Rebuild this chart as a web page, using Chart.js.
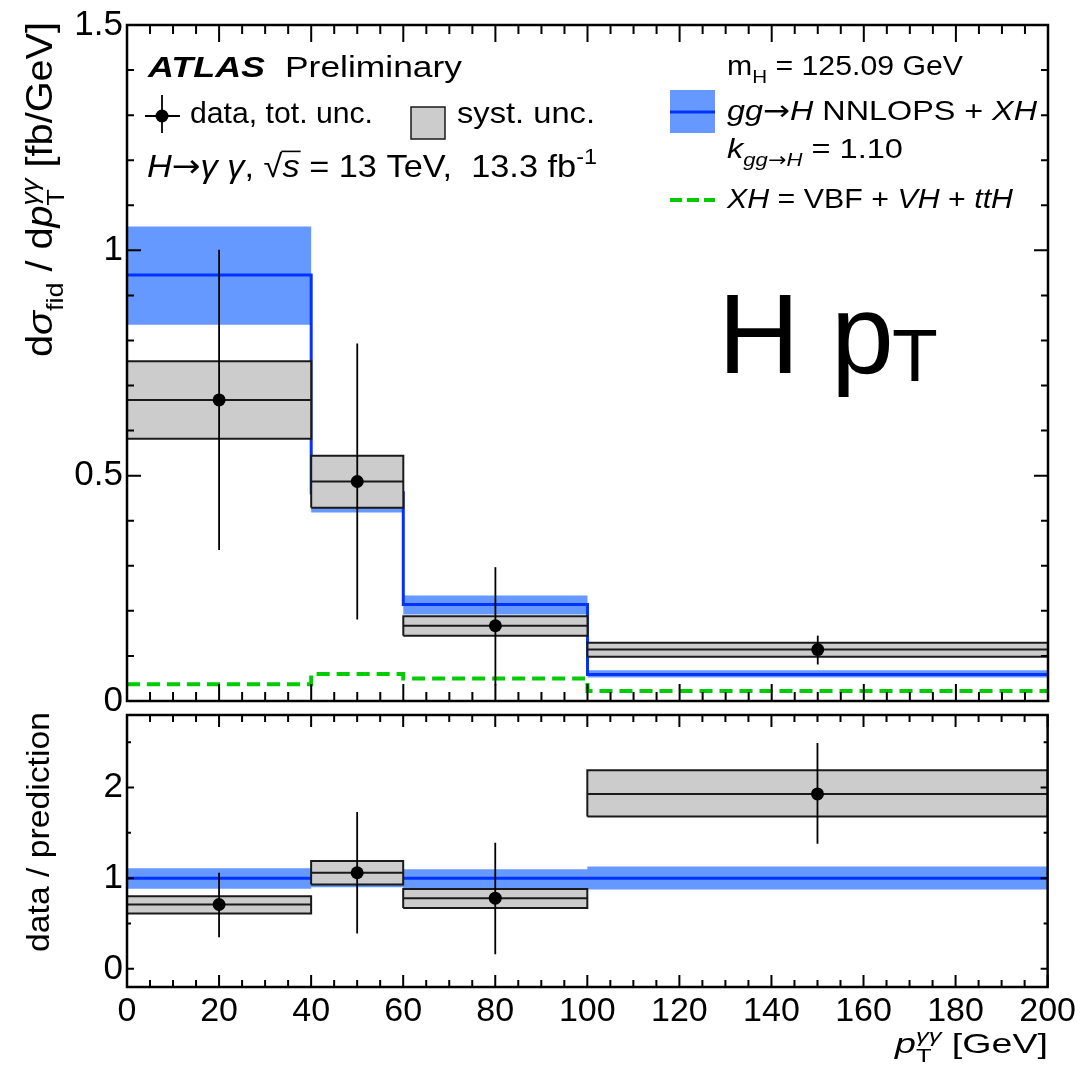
<!DOCTYPE html>
<html>
<head>
<meta charset="utf-8">
<script src="https://cdn.jsdelivr.net/npm/chart.js@4.4.1/dist/chart.umd.min.js"></script>
<style>
body{margin:0;background:#fff;}
#wrap{position:relative;width:1080px;height:1072px;overflow:hidden;}
canvas{position:absolute;left:0;}
</style>
</head>
<body>
<div id="wrap">
<canvas id="top" width="1080" height="730" style="top:0px"></canvas>
<canvas id="bot" width="1080" height="382" style="top:690px"></canvas>
</div>
<script>
// bins in pT [GeV]
const binEdges=[0,40,60,100,200]
const binCenters=[20,50,80,150]

// main panel: d sigma / d pT [fb/GeV]
const pred=[0.945,0.462,0.214,0.059]
const predUp=[1.053,0.506,0.234,0.068]
const predDn=[0.835,0.418,0.192,0.052]
const xh=[0.037,0.060,0.050,0.022]
const data=[0.668,0.487,0.167,0.114]
const totUp=[1.0015,0.793,0.297,0.145]
const totDn=[0.335,0.181,0.035,0.081]
const systUp=[0.754,0.544,0.188,0.129]
const systDn=[0.582,0.429,0.145,0.098]

// ratio panel: data / prediction
const ratioPred=[1,1,1,1]
const ratioBandUp=[1.11,1.095,1.10,1.13]
const ratioBandDn=[0.885,0.90,0.89,0.876]
const ratio=[0.71,1.06,0.78,1.93]
const ratioTotUp=[1.06,1.73,1.39,2.49]
const ratioTotDn=[0.35,0.39,0.16,1.38]
const ratioSystUp=[0.80,1.19,0.88,2.19]
const ratioSystDn=[0.61,0.93,0.67,1.68]

const xTicks=[0,20,40,60,80,100,120,140,160,180,200]
const yTicksTop=[0,0.5,1,1.5]
const yTicksRatio=[0,1,2]

const FONT='"Liberation Sans", Arial, Helvetica, sans-serif'
const ARROWFONT='"DejaVu Sans", sans-serif'
const BLUE='#0033ff', BAND='#6699ff', GRAY='#cccccc', GREEN='#00cc00'

function stepPts(vals){
  return binEdges.map((x,i)=>({x:x,y:vals[Math.min(i,vals.length-1)]}))
}
function boxPts(i,lo,hi){
  const a=binEdges[i],b=binEdges[i+1]
  return [{x:a,y:lo},{x:a,y:hi},{x:b,y:hi},{x:b,y:lo},{x:a,y:lo}]
}

function makeSets(o){
  const L=[]
  L.push({data:stepPts(o.bandUp),fill:'+1',backgroundColor:BAND,borderWidth:0,showLine:true,stepped:true})
  L.push({data:stepPts(o.bandDn),fill:false,borderWidth:0,showLine:true,stepped:true})
  L.push({data:stepPts(o.line),borderColor:BLUE,borderWidth:3,showLine:true,stepped:true,fill:false})
  if(o.xh) L.push({data:stepPts(o.xh),borderColor:GREEN,borderWidth:4,borderDash:[13,7],showLine:true,stepped:true,fill:false})
  o.val.forEach((v,i)=>{
    L.push({data:boxPts(i,o.systDn[i],o.systUp[i]),fill:'shape',backgroundColor:GRAY,borderColor:'#1a1a1a',borderWidth:2,showLine:true})
    L.push({data:[{x:binEdges[i],y:v},{x:binEdges[i+1],y:v}],borderColor:'#1a1a1a',borderWidth:2,showLine:true,fill:false})
  })
  o.val.forEach((v,i)=>{
    L.push({data:[{x:binCenters[i],y:o.totDn[i]},{x:binCenters[i],y:o.totUp[i]}],borderColor:'#000',borderWidth:1.8,showLine:true,fill:false})
  })
  L.push({data:binCenters.map((x,i)=>({x:x,y:o.val[i]})),showLine:false,pointRadius:6.5,pointBackgroundColor:'#000',pointBorderWidth:0})
  L.forEach((d,i)=>{d.order=L.length-i})
  return L
}

// rich text with sub/superscripts, optionally stretched to a target width
function fontOf(p,size){
  const s=(p.sub||p.sup||p.small)?size*0.68:size
  return (p.it?'italic ':'')+(p.bd?'bold ':'')+s.toFixed(1)+'px '+(p.ar?ARROWFONT:FONT)
}
function partWidth(ctx,p,size){
  if(p.st){
    return Math.max(...p.st.map(q=>{ctx.font=fontOf(Object.assign({small:1},q),size);return ctx.measureText(q.t).width}))
  }
  ctx.font=fontOf(p,size)
  return ctx.measureText(p.t).width
}
function drawRich(ctx,parts,x,y,size,opt){
  opt=opt||{}
  ctx.save()
  ctx.translate(x,y)
  if(opt.rot) ctx.rotate(-Math.PI/2)
  const total=parts.reduce((a,p)=>a+partWidth(ctx,p,size),0)
  const sx=opt.w?opt.w/total:1
  if(opt.right) ctx.translate(-total*sx,0)
  ctx.scale(sx,1)
  ctx.fillStyle='#000';ctx.strokeStyle='#000';ctx.textAlign='left';ctx.textBaseline='alphabetic'
  let cx=0
  for(const p of parts){
    const w=partWidth(ctx,p,size)
    if(p.st){
      ctx.font=fontOf(Object.assign({small:1},p.st[0]),size);ctx.fillText(p.st[0].t,cx,-size*0.40)
      ctx.font=fontOf(Object.assign({small:1},p.st[1]),size);ctx.fillText(p.st[1].t,cx,size*0.32)
    }else{
      ctx.font=fontOf(p,size)
      const dy=p.sub?size*0.3:(p.sup?-size*0.42:0)
      ctx.fillText(p.t,cx,dy)
      if(p.over){
        ctx.lineWidth=1.6;ctx.beginPath();ctx.moveTo(cx-1,-size*0.8);ctx.lineTo(cx+w+1,-size*0.8);ctx.stroke()
      }
    }
    cx+=w
  }
  ctx.restore()
}

function framePlugin(o){
  return {id:'frame',afterDatasetsDraw(chart){
    const ctx=chart.ctx,a=chart.chartArea,x=chart.scales.x,y=chart.scales.y
    ctx.save();ctx.strokeStyle='#000';ctx.lineWidth=2
    ctx.beginPath()
    for(let v=0;v<=200;v+=5){
      const px=x.getPixelForValue(v),L=(v%20===0)?o.xMaj:o.xMin
      ctx.moveTo(px,a.bottom);ctx.lineTo(px,a.bottom-L)
      ctx.moveTo(px,a.top);ctx.lineTo(px,a.top+L)
    }
    for(let k=0;;k++){
      const v=o.y0+k*o.yStep
      if(v>o.y1+1e-9) break
      const py=y.getPixelForValue(v)
      const r=v/o.yMajStep,maj=Math.abs(r-Math.round(r))<1e-6
      const L=maj?o.yMaj:o.yMin
      ctx.moveTo(a.left,py);ctx.lineTo(a.left+L,py)
      ctx.moveTo(a.right,py);ctx.lineTo(a.right-L,py)
    }
    ctx.stroke()
    ctx.lineWidth=2.5
    ctx.strokeRect(a.left,a.top,a.right-a.left,a.bottom-a.top)
    ctx.restore()
  }}
}

const topText={id:'topText',afterDraw(chart){
  const ctx=chart.ctx
  // left block
  drawRich(ctx,[{t:'ATLAS',it:1,bd:1}],148,77,30,{w:117})
  drawRich(ctx,[{t:'Preliminary'}],285,77,30,{w:177})
  ctx.save()
  ctx.strokeStyle='#000';ctx.lineWidth=1.8
  ctx.beginPath();ctx.moveTo(145,116);ctx.lineTo(180,116);ctx.moveTo(162,95);ctx.lineTo(162,133);ctx.stroke()
  ctx.fillStyle='#000';ctx.beginPath();ctx.arc(162,116,6.5,0,Math.PI*2);ctx.fill()
  ctx.fillStyle=GRAY;ctx.fillRect(411,107,34,32)
  ctx.strokeStyle='#1a1a1a';ctx.lineWidth=1.5;ctx.strokeRect(411,107,34,32)
  ctx.restore()
  drawRich(ctx,[{t:'data, tot. unc.'}],190,123,30,{w:183})
  drawRich(ctx,[{t:'syst. unc.'}],457,123,30,{w:138})
  drawRich(ctx,[{t:'H',it:1},{t:'→',ar:1},{t:'γ',it:1},{t:' '},{t:'γ',it:1},{t:', √'},{t:'s',it:1,over:1},{t:' = 13 TeV,  13.3 fb'},{t:'-1',sup:1}],147,177,32,{w:450})
  // right block
  ctx.save()
  ctx.fillStyle=BAND;ctx.fillRect(670,90,45,43)
  ctx.strokeStyle=BLUE;ctx.lineWidth=3;ctx.beginPath();ctx.moveTo(670,112);ctx.lineTo(715,112);ctx.stroke()
  ctx.strokeStyle=GREEN;ctx.lineWidth=4;ctx.setLineDash([12,5]);ctx.beginPath();ctx.moveTo(670,200);ctx.lineTo(715,200);ctx.stroke()
  ctx.restore()
  drawRich(ctx,[{t:'m'},{t:'H',sub:1},{t:' = 125.09 GeV'}],727,75,27,{w:236})
  drawRich(ctx,[{t:'gg',it:1},{t:'→',ar:1},{t:'H',it:1},{t:' NNLOPS + '},{t:'XH',it:1}],727,120,28,{w:310})
  drawRich(ctx,[{t:'k',it:1},{t:'gg',it:1,sub:1},{t:'→',ar:1,sub:1},{t:'H',it:1,sub:1},{t:' = 1.10'}],727,158,28,{w:176})
  drawRich(ctx,[{t:'XH',it:1},{t:' = VBF + '},{t:'VH',it:1},{t:' + '},{t:'ttH',it:1}],727,208,28,{w:286})
  // big label
  ctx.save();ctx.fillStyle='#000';ctx.textBaseline='alphabetic'
  ctx.font='113px '+FONT;ctx.fillText('H',718,373);ctx.fillText('p',831,373)
  ctx.font='75px '+FONT;ctx.fillText('T',892,381)
  ctx.restore()
  // y title
  drawRich(ctx,[{t:'d'},{t:'σ',it:1},{t:'fid',sub:1},{t:' / d'},{t:'p',it:1},{st:[{t:'γγ',it:1},{t:'T'}]},{t:' [fb/GeV]'}],52,357,36,{rot:1,w:335})
}}

const botText={id:'botText',afterDraw(chart){
  const ctx=chart.ctx
  ctx.save();ctx.translate(0,-690)
  drawRich(ctx,[{t:'data / prediction'}],49,952,31,{rot:1,w:240})
  drawRich(ctx,[{t:'p',it:1},{st:[{t:'γγ',it:1},{t:'T'}]},{t:' [GeV]'}],1048,1053,28,{right:1,w:153})
  ctx.restore()
}}

Chart.defaults.font.family=FONT
Chart.defaults.color='#000'

const common={
  responsive:false,animation:false,devicePixelRatio:1,events:[],
  elements:{point:{radius:0,hoverRadius:0},line:{tension:0}},
  plugins:{legend:{display:false},tooltip:{enabled:false}}
}
const plainLabel=v=>String(v)

new Chart(document.getElementById('top'),{
  type:'scatter',
  data:{datasets:makeSets({bandUp:predUp,bandDn:predDn,line:pred,xh:xh,systUp:systUp,systDn:systDn,val:data,totUp:totUp,totDn:totDn})},
  options:Object.assign({},common,{
    layout:{padding:{left:0,right:32,top:24,bottom:29}},
    scales:{
      x:{type:'linear',min:0,max:200,display:false},
      y:{min:0,max:1.5,
        afterBuildTicks:s=>{s.ticks=yTicksTop.map(v=>({value:v}))},
        afterFit:s=>{s.width=127},
        ticks:{font:{size:35},color:'#000',padding:4,callback:plainLabel},
        grid:{display:false,drawTicks:false},border:{display:false}}
    }
  }),
  plugins:[framePlugin({xMaj:17,xMin:9,y0:0,y1:1.5,yStep:0.1,yMajStep:0.5,yMaj:14,yMin:7}),topText]
})

new Chart(document.getElementById('bot'),{
  type:'scatter',
  data:{datasets:makeSets({bandUp:ratioBandUp,bandDn:ratioBandDn,line:ratioPred,systUp:ratioSystUp,systDn:ratioSystDn,val:ratio,totUp:ratioTotUp,totDn:ratioTotDn})},
  options:Object.assign({},common,{
    layout:{padding:{left:0,right:32,top:23,bottom:0}},
    scales:{
      x:{type:'linear',min:0,max:200,
        afterBuildTicks:s=>{s.ticks=xTicks.map(v=>({value:v}))},
        afterFit:s=>{s.height=85},
        ticks:{font:{size:34},color:'#000',padding:4,maxRotation:0,autoSkip:false,callback:plainLabel},
        grid:{display:false,drawTicks:false},border:{display:false}},
      y:{min:-0.2,max:2.8,
        afterBuildTicks:s=>{s.ticks=yTicksRatio.map(v=>({value:v}))},
        afterFit:s=>{s.width=127},
        ticks:{font:{size:35},color:'#000',padding:4,callback:plainLabel},
        grid:{display:false,drawTicks:false},border:{display:false}}
    }
  }),
  plugins:[framePlugin({xMaj:12,xMin:7,y0:0,y1:2.8,yStep:0.5,yMajStep:1,yMaj:7,yMin:4}),botText]
})
</script>
</body>
</html>
